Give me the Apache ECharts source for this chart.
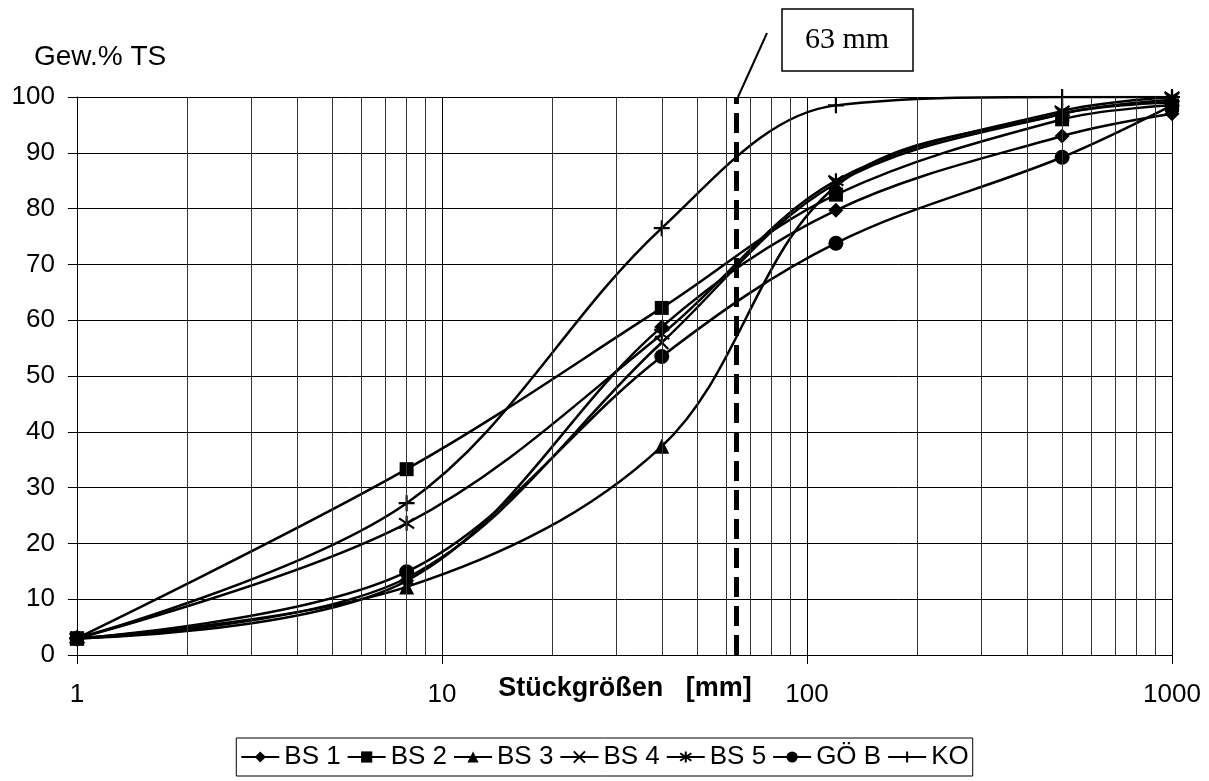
<!DOCTYPE html>
<html>
<head>
<meta charset="utf-8">
<script src="https://cdn.jsdelivr.net/npm/echarts@6/dist/echarts.min.js"></script>
<style>
  html, body { margin: 0; padding: 0; background: #fff; }
  #main { width: 1209px; height: 781px; }
</style>
</head>
<body>
<div id="main"></div>
<script>
// Stückgrößen (mm) der Messpunkte
var sizes = [1, 8, 40, 120, 500, 1000];

// Siebdurchgang Gew.% TS
var bs1  = [3, 13.3, 58.8, 79.7, 93.0, 97.0];
var bs2  = [3, 33.3, 62.2, 82.5, 96.0, 98.5];
var bs3  = [3, 12.2, 37.4, 84.0, 97.0, 99.0];
var bs4  = [3, 13.8, 56.0, 84.5, 97.0, 99.5];
var bs5  = [3, 23.6, 57.5, 85.0, 97.5, 100];
var goeB = [3, 14.9, 53.5, 73.8, 89.2, 98.5];
var ko   = [3, 27.2, 76.5, 98.5, 100, 100];

var xTicks = [1, 10, 100, 1000];
var minorTicks = [2, 3, 4, 5, 6, 7, 8, 9, 20, 30, 40, 50, 60, 70, 80, 90,
                  200, 300, 400, 500, 600, 700, 800, 900];
var cutSize = 64; // 63-mm-Grenze

var font = 'Liberation Sans, Arial, sans-serif';

function pairs(vals) {
    var res = [];
    for (var i = 0; i < sizes.length; i++) {
        res.push([sizes[i], vals[i]]);
    }
    return res;
}

var crossPath = 'path://M0,0L10,10M10,0L0,10';
var starPath  = 'path://M0,1L10,9M10,1L0,9M5,-1L5,11';
var plusPath  = 'path://M5,0L5,10M0,5L10,5';

function mkSeries(name, vals, symbol, size, stroke) {
    return {
        name: name,
        type: 'line',
        data: pairs(vals),
        smooth: 0.35,
        symbol: symbol,
        symbolSize: size,
        showSymbol: true,
        lineStyle: { color: '#000', width: 2.5 },
        itemStyle: {
            color: '#000',
            borderColor: '#000',
            borderWidth: stroke ? 2.2 : 0
        },
        emphasis: { disabled: true }
    };
}

var series = [
    mkSeries('BS 1', bs1, 'diamond', 15, false),
    mkSeries('BS 2', bs2, 'rect', 14, false),
    mkSeries('BS 3', bs3, 'triangle', 15, false),
    mkSeries('BS 4', bs4, crossPath, 13, true),
    mkSeries('BS 5', bs5, starPath, 15, true),
    mkSeries('GÖ B', goeB, 'circle', 15, false),
    mkSeries('KO', ko, plusPath, 16, true)
];

// Nebengitterlinien + 63-mm-Linie
series[0].markLine = {
    silent: true,
    symbol: 'none',
    animation: false,
    label: { show: false },
    data: minorTicks.map(function (v) {
        return { xAxis: v, lineStyle: { color: '#333', width: 1, type: 'solid' } };
    }).concat([{ xAxis: cutSize, lineStyle: { color: '#000', width: 5, type: [20, 9] } }])
};

var myChart = echarts.init(document.getElementById('main'));

var option = {
    animation: false,
    backgroundColor: '#fff',
    grid: { left: 77, right: 37, top: 97, bottom: 126, containLabel: false },
    xAxis: {
        type: 'log',
        logBase: 10,
        min: 1,
        max: 1000,
        axisLine: { show: true, lineStyle: { color: '#000', width: 1 } },
        axisTick: { show: true, length: 9, lineStyle: { color: '#000' } },
        axisLabel: {
            margin: 27,
            fontFamily: font,
            fontSize: 26,
            color: '#000',
            formatter: function (v) { return xTicks.indexOf(v) >= 0 ? String(v) : ''; }
        },
        splitLine: { show: true, lineStyle: { color: '#000', width: 1 } },
        minorTick: { show: false },
        minorSplitLine: { show: false }
    },
    yAxis: {
        type: 'value',
        min: 0,
        max: 100,
        interval: 10,
        axisLine: { show: true, lineStyle: { color: '#000', width: 1 } },
        axisTick: { show: true, length: 9, lineStyle: { color: '#000' } },
        axisLabel: { margin: 22, fontFamily: font, fontSize: 26, color: '#000' },
        splitLine: { show: true, lineStyle: { color: '#000', width: 1 } }
    },
    legend: {
        left: 'center',
        top: 738,
        itemWidth: 38,
        itemHeight: 14,
        itemGap: 6,
        padding: [6, 4],
        borderColor: '#000',
        borderWidth: 1,
        borderRadius: 0,
        textStyle: { fontFamily: font, fontSize: 26, color: '#000' },
        data: ['BS 1', 'BS 2', 'BS 3', 'BS 4', 'BS 5', 'GÖ B', 'KO']
    },
    graphic: [
        {
            type: 'text',
            left: 34,
            top: 43,
            style: { text: 'Gew.% TS', font: '28px ' + font, fill: '#000' }
        },
        {
            type: 'text',
            x: 625,
            y: 689,
            style: {
                text: 'Stückgrößen   [mm]',
                font: 'bold 27px ' + font,
                fill: '#000',
                align: 'center',
                verticalAlign: 'middle'
            }
        },
        {
            type: 'line',
            shape: { x1: 767, y1: 33, x2: 738, y2: 97 },
            style: { stroke: '#000', lineWidth: 2 }
        },
        {
            type: 'rect',
            shape: { x: 782, y: 9, width: 131, height: 62 },
            style: { fill: '#fff', stroke: '#000', lineWidth: 1.5 }
        },
        {
            type: 'text',
            x: 847,
            y: 40,
            style: {
                text: '63 mm',
                font: '30px Liberation Serif, Times New Roman, serif',
                fill: '#000',
                align: 'center',
                verticalAlign: 'middle'
            }
        }
    ],
    series: series
};

myChart.setOption(option);
window.addEventListener('resize', function () {
    myChart.resize();
});
</script>
</body>
</html>
